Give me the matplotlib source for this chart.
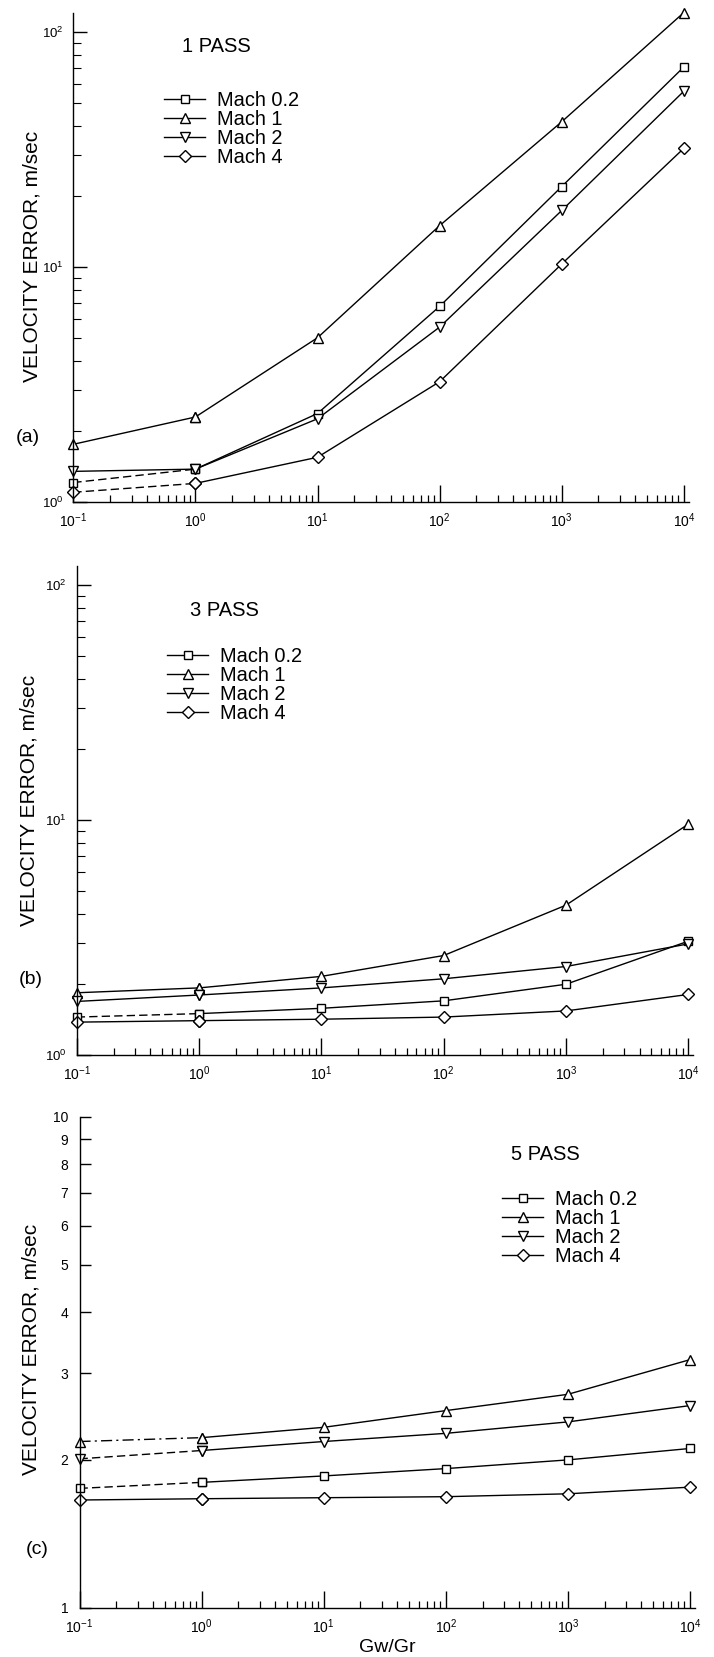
import numpy as np
import matplotlib.pyplot as plt
from matplotlib.ticker import LogLocator, FixedLocator, FixedFormatter, NullLocator, NullFormatter

plt.rcParams['font.family'] = ['Liberation Sans', 'DejaVu Sans']
plt.rcParams['mathtext.default'] = 'regular'

# data
gw_gr = [0.1, 1, 10, 100, 1000, 10000]
mach_labels = ["Mach 0.2", "Mach 1", "Mach 2", "Mach 4"]

pass1_mach02 = [1.21, 1.38, 2.38, 6.8, 22.0, 71.0]
pass1_mach1 = [1.76, 2.30, 5.0, 15.0, 41.5, 121.0]
pass1_mach2 = [1.35, 1.38, 2.26, 5.55, 17.4, 56.0]
pass1_mach4 = [1.10, 1.20, 1.55, 3.25, 10.3, 32.0]

pass3_mach02 = [1.45, 1.50, 1.58, 1.70, 2.00, 3.05]
pass3_mach1 = [1.84, 1.93, 2.16, 2.65, 4.34, 9.6]
pass3_mach2 = [1.69, 1.80, 1.93, 2.11, 2.38, 2.97]
pass3_mach4 = [1.38, 1.40, 1.42, 1.45, 1.54, 1.81]

pass5_mach02 = [1.75, 1.80, 1.855, 1.92, 2.00, 2.11]
pass5_mach1 = [2.18, 2.22, 2.33, 2.52, 2.72, 3.20]
pass5_mach2 = [2.01, 2.09, 2.18, 2.265, 2.39, 2.58]
pass5_mach4 = [1.657, 1.667, 1.675, 1.683, 1.706, 1.76]

pass5_yticks = [1, 2, 3, 4, 5, 6, 7, 8, 9, 10]

markers = ['s', '^', 'v', 'D']
msizes = [6, 6.5, 6.5, 5.8]

W, H = 714, 1657
fig = plt.figure(figsize=(W / 100, H / 100), dpi=100)


def fx(x):
    return x / W


def fy(y):
    return 1 - y / H


def axes_px(x0, x1, ybot, ytop):
    return fig.add_axes([fx(x0), fy(ybot), (x1 - x0) / W, (ybot - ytop) / H])


dash = (0, (6, 3))
dashdot = (0, (8, 3, 1.5, 3))

panels = [
    dict(data=[pass1_mach02, pass1_mach1, pass1_mach2, pass1_mach4],
         box=(73.3, 688.9, 502, 13.4), ylim=(1, 120), title="1 PASS",
         title_xy=(182, 46), leg_xy=(164, 91), tag="(a)", tag_xy=(16, 437),
         ylab_xy=(32, 256), first=[dash, '-', '-', dash]),
    dict(data=[pass3_mach02, pass3_mach1, pass3_mach2, pass3_mach4],
         box=(76.7, 693.3, 1055, 566.4), ylim=(1, 120), title="3 PASS",
         title_xy=(190, 610), leg_xy=(167, 647), tag="(b)", tag_xy=(19, 980),
         ylab_xy=(29, 800), first=[dash, '-', '-', '-']),
    dict(data=[pass5_mach02, pass5_mach1, pass5_mach2, pass5_mach4],
         box=(79.5, 695.0, 1607.7, 1116.7), ylim=(1, 10), title="5 PASS",
         title_xy=(511, 1154), leg_xy=(502, 1190), tag="(c)", tag_xy=(26, 1549),
         ylab_xy=(31, 1349), first=[dash, dashdot, dash, '-']),
]

for i, p in enumerate(panels):
    ax = axes_px(*p['box'])
    ax.set_xscale('log')
    ax.set_yscale('log')
    ax.set_xlim(0.1, 1.1e4)
    ax.set_ylim(*p['ylim'])
    for s in ['top', 'right']:
        ax.spines[s].set_visible(False)
    for s in ['left', 'bottom']:
        ax.spines[s].set_linewidth(1.0)

    handles = []
    for vals, lab, mk, ms, fs in zip(p['data'], mach_labels, markers, msizes, p['first']):
        ax.plot(gw_gr[:2], vals[:2], color='black', lw=1.0, ls=fs, marker=mk,
                ms=ms, mfc='white', mec='black', mew=1.0, clip_on=False)
        h, = ax.plot(gw_gr[1:], vals[1:], color='black', lw=1.0, ls='-', marker=mk,
                     ms=ms, mfc='white', mec='black', mew=1.0, clip_on=False, label=lab)
        handles.append(h)

    ax.xaxis.set_major_locator(LogLocator(base=10, numticks=10))
    ax.xaxis.set_minor_locator(LogLocator(base=10, subs=np.arange(2, 10), numticks=10))
    ax.xaxis.set_minor_formatter(NullFormatter())
    ax.tick_params(axis='x', which='major', direction='in', length=12, width=1,
                   labelsize=10, pad=7)
    ax.tick_params(axis='x', which='minor', direction='in', length=5, width=0.9)

    if i < 2:
        ax.yaxis.set_major_locator(LogLocator(base=10, numticks=10))
        ax.yaxis.set_minor_locator(LogLocator(base=10, subs=np.arange(2, 10), numticks=10))
        ax.yaxis.set_minor_formatter(NullFormatter())
        ax.tick_params(axis='y', which='major', direction='in', length=10, width=1,
                       labelsize=9.5, pad=7)
        ax.tick_params(axis='y', which='minor', direction='in', length=6, width=0.8)
    else:
        ax.yaxis.set_major_locator(FixedLocator(pass5_yticks))
        ax.yaxis.set_major_formatter(FixedFormatter([str(t) for t in pass5_yticks]))
        ax.yaxis.set_minor_locator(NullLocator())
        ax.tick_params(axis='y', which='major', direction='in', length=8, width=1,
                       labelsize=10, pad=8)

    fig.text(fx(p['title_xy'][0]), fy(p['title_xy'][1]), p['title'],
             fontsize=14.5, ha='left', va='center')
    fig.text(fx(p['tag_xy'][0]), fy(p['tag_xy'][1]), p['tag'],
             fontsize=14, ha='left', va='center')
    fig.text(fx(p['ylab_xy'][0]), fy(p['ylab_xy'][1]), "VELOCITY ERROR, m/sec",
             fontsize=15, rotation=90, ha='center', va='center')

    ax.legend(handles=handles, loc='upper left',
              bbox_to_anchor=(fx(p['leg_xy'][0]), fy(p['leg_xy'][1])),
              bbox_transform=fig.transFigure, frameon=False, borderpad=0,
              borderaxespad=0, handlelength=2.05, handletextpad=0.58,
              labelspacing=0.0, fontsize=14.4, numpoints=1)

fig.text(fx(387), fy(1647), "Gw/Gr", fontsize=14, ha='center', va='center')

fig.savefig("out.png", dpi=100)
